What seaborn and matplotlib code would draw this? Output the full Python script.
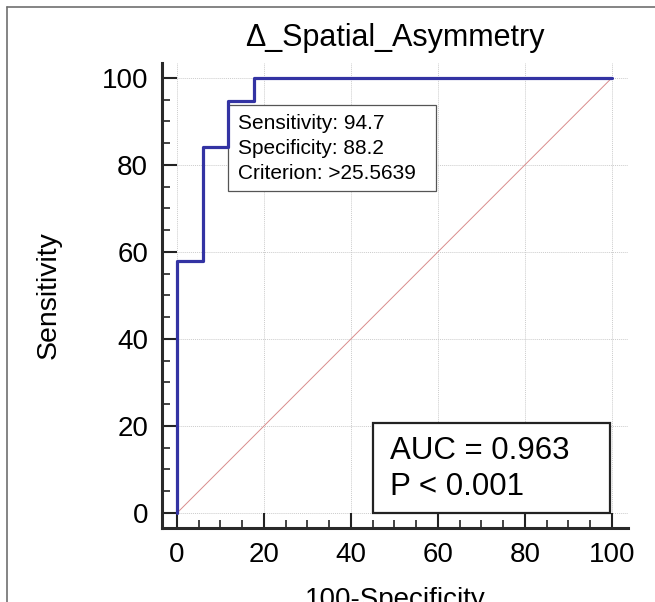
import matplotlib
matplotlib.use('Agg')
from matplotlib import pyplot as plt
from matplotlib.ticker import MultipleLocator
from matplotlib.patches import Rectangle
from matplotlib.lines import Line2D
import seaborn as sns

# ROC operating points (100-Specificity, Sensitivity)
fpr = [0, 0, 5.9, 11.8, 17.6, 100]
tpr = [0, 57.9, 84.2, 94.7, 100, 100]
diag = [0, 100]

title = '\u0394_Spatial_Asymmetry'
sens, spec, crit = 94.7, 88.2, '>25.5639'
auc, pval = 0.963, '< 0.001'
ticks = [0, 20, 40, 60, 80, 100]

sns.set_style('white')
plt.rcParams['font.family'] = ['Liberation Sans', 'DejaVu Sans']
plt.rcParams['text.color'] = 'black'
plt.rcParams['axes.labelcolor'] = 'black'
plt.rcParams['xtick.labelcolor'] = 'black'
plt.rcParams['ytick.labelcolor'] = 'black'

fig = plt.figure(figsize=(6.55, 6.02), dpi=100)
ax = fig.add_axes([162/655, 1 - 528/602, (628-162)/655, (528-63)/602])

xmin, xmax = -3.45, 103.7
ymin, ymax = -3.45, 103.4
ax.set_xlim(xmin, xmax)
ax.set_ylim(ymin, ymax)

# grid lines start at zero like the original
for t in ticks:
    ax.hlines(t, 0, xmax, color='#cccccc', lw=0.7, ls=(0, (1, 1)), zorder=0)
    ax.vlines(t, 0, ymax, color='#cccccc', lw=0.7, ls=(0, (1, 1)), zorder=0)

sns.lineplot(x=diag, y=diag, ax=ax, color='#d98c8c', lw=0.7, zorder=1)
sns.lineplot(x=fpr, y=tpr, ax=ax, sort=False, estimator=None,
             drawstyle='steps-post', color='#3333a3', lw=2.3, zorder=4)

# criterion box
ax.add_patch(Rectangle((11.8, 74), 47.7, 19.8, facecolor='white',
                       edgecolor='#555555', lw=0.9, zorder=3))
ax.text(14, 83.8, f'Sensitivity: {sens}\nSpecificity: {spec}\nCriterion: {crit}',
        fontsize=15, va='center', ha='left', linespacing=1.4, zorder=5)

# AUC box
ax.add_patch(Rectangle((45, 0), 54.6, 20.7, facecolor='white',
                       edgecolor='#222222', lw=1.6, zorder=3))
ax.text(49, 10.1, f'AUC = {auc}\nP {pval}', fontsize=22.5, va='center',
        ha='left', linespacing=1.3, zorder=5)

ax.set_xticks(ticks)
ax.set_yticks(ticks)
ax.xaxis.set_minor_locator(MultipleLocator(5))
ax.yaxis.set_minor_locator(MultipleLocator(5))
ax.tick_params(which='major', direction='in', length=10.8, width=1.5,
               color='#222222', labelsize=20, pad=10)
ax.tick_params(which='minor', direction='in', length=5.8, width=1.2,
               color='#222222')
ax.tick_params(bottom=True, left=True, which='both')

for s in ['top', 'right']:
    ax.spines[s].set_visible(False)
for s in ['left', 'bottom']:
    ax.spines[s].set_linewidth(2.2)
    ax.spines[s].set_color('#2a2a2a')

ax.set_title(title, fontsize=22, pad=12)
ax.set_ylabel('Sensitivity', fontsize=20.5, labelpad=29)
ax.set_xlabel('100-Specificity', fontsize=20, labelpad=14)

# outer frame of the original figure
fig.add_artist(Line2D([7/655, 7/655], [0, 1 - 7/602], color='#707070', lw=1.2))
fig.add_artist(Line2D([7/655, 1], [1 - 7/602, 1 - 7/602], color='#707070', lw=1.2))

fig.savefig('out.png', dpi=100)
